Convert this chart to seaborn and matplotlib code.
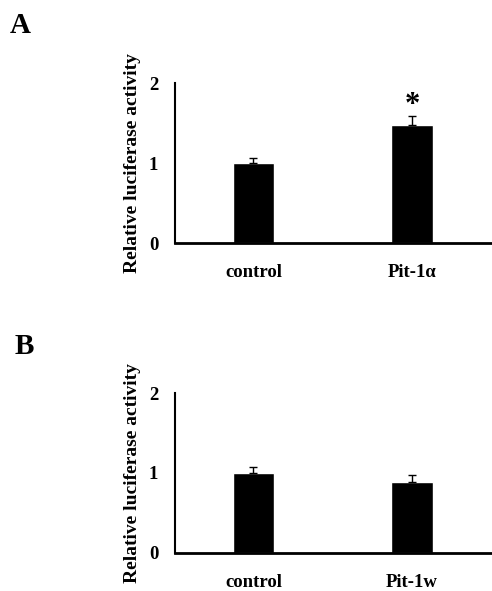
import matplotlib
matplotlib.use("Agg")
import matplotlib.pyplot as plt
import seaborn as sns
import pandas as pd

# data
groups_a = ["control", "Pit-1\u03b1"]
values_a = [1.00, 1.47]
errors_a = [0.06, 0.12]

groups_b = ["control", "Pit-1w"]
values_b = [1.00, 0.89]
errors_b = [0.07, 0.09]

sns.set_theme(style="white")
plt.rcParams["font.family"] = ["Liberation Serif", "DejaVu Serif"]
plt.rcParams["font.weight"] = "bold"
plt.rcParams["text.color"] = "black"
plt.rcParams["xtick.color"] = "black"
plt.rcParams["ytick.color"] = "black"
plt.rcParams["axes.labelcolor"] = "black"

fig = plt.figure(figsize=(4.92, 5.91), dpi=100)
ax_a = fig.add_axes([0.3557, 0.5888, 0.6443, 0.2707])
ax_b = fig.add_axes([0.3557, 0.0648, 0.6443, 0.2700])


def draw_panel(ax, groups, values, errors):
    df = pd.DataFrame({"group": groups, "value": values})
    sns.barplot(data=df, x="group", y="value", color="black", width=0.26,
                saturation=1, ax=ax, errorbar=None)
    ax.errorbar(range(len(groups)), values, yerr=[[0] * len(errors), errors],
                fmt="none", ecolor="black", elinewidth=1, capsize=3, capthick=1)
    ax.set_ylim(0, 2)
    ax.set_xlim(-0.495, 1.505)
    ax.set_yticks([0, 1, 2])
    ax.set_xlabel("")
    ax.set_ylabel("Relative luciferase activity", fontsize=14, fontweight="bold", labelpad=6)
    ax.tick_params(axis="y", length=0, labelsize=13.5, pad=12)
    ax.tick_params(axis="x", length=0, labelsize=13.5, pad=15)
    for lab in ax.get_xticklabels() + ax.get_yticklabels():
        lab.set_fontweight("bold")
    sns.despine(ax=ax)
    ax.spines["left"].set_linewidth(1.5)
    ax.spines["bottom"].set_linewidth(2)
    ax.spines["left"].set_color("black")
    ax.spines["bottom"].set_color("black")
    ax.set_facecolor("none")


draw_panel(ax_a, groups_a, values_a, errors_a)
draw_panel(ax_b, groups_b, values_b, errors_b)

ax_a.text(1, values_a[1] + errors_a[1] - 0.05, "*", ha="center", va="bottom",
          fontsize=22, fontweight="bold")

fig.text(0.02, 0.957, "A", fontsize=21, fontweight="bold", ha="left", va="center")
fig.text(0.03, 0.413, "B", fontsize=21, fontweight="bold", ha="left", va="center")

fig.savefig("out.png", dpi=100, facecolor="white")
